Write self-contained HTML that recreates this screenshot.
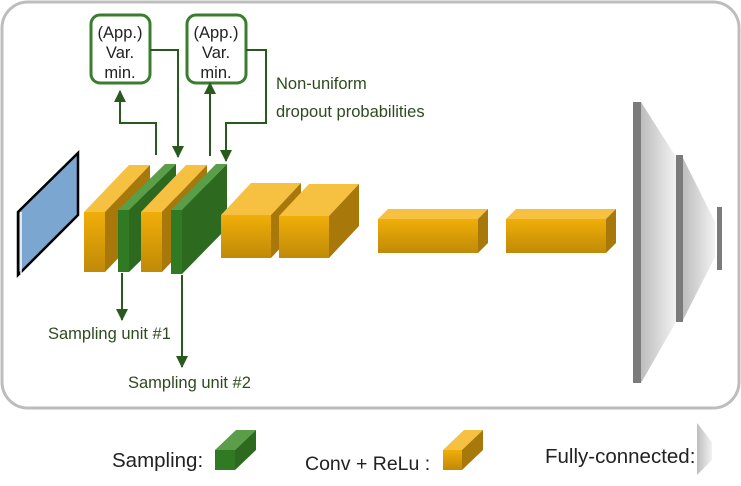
<!DOCTYPE html>
<html><head><style>body{margin:0;background:#fff}svg{display:block}text{font-family:"Liberation Sans",sans-serif}</style></head><body>
<svg width="741" height="486" viewBox="0 0 741 486" xmlns="http://www.w3.org/2000/svg">
<defs>
<linearGradient id="yf" x1="0" y1="0" x2="0" y2="1"><stop offset="0" stop-color="#f0ae08"/><stop offset="1" stop-color="#c08a08"/></linearGradient>
<linearGradient id="fc" x1="0" y1="0" x2="1" y2="0"><stop offset="0" stop-color="#bdbdbd"/><stop offset="1" stop-color="#f2f2f2"/></linearGradient>
<marker id="a" markerWidth="12" markerHeight="12" refX="11" refY="6" orient="auto" markerUnits="userSpaceOnUse"><path d="M0,0 L12,6 L0,12Z" fill="#285a1e"/></marker>
</defs>
<rect x="2" y="2" width="737" height="406" rx="26" fill="#fff" stroke="#bdbdbd" stroke-width="3"/>
<polygon points="18,212 78,153 78,215 18,275" fill="#7aa6cf" stroke="#000" stroke-width="2.5"/>
<line x1="21" y1="212" x2="21" y2="274" stroke="#fff" stroke-width="1.5"/>
<polygon points="84,212 105,212 150,165 129,165" fill="#f6c040"/>
<polygon points="105,212 150,165 150,225 105,272" fill="#a8780a"/>
<rect x="84" y="212" width="21" height="60" fill="url(#yf)"/>
<polygon points="118,210 129,210 176,164 165,164" fill="#5a9e4a"/>
<polygon points="129,210 176,164 176,226 129,272" fill="#2d6a1f"/>
<rect x="118" y="210" width="11" height="62" fill="#2f7a22"/>
<polygon points="141,212 162,212 207,165 186,165" fill="#f6c040"/>
<polygon points="162,212 207,165 207,225 162,272" fill="#a8780a"/>
<rect x="141" y="212" width="21" height="60" fill="url(#yf)"/>
<polygon points="171,210 182,210 227,164 216,164" fill="#5a9e4a"/>
<polygon points="182,210 227,164 227,228 182,274" fill="#2d6a1f"/>
<rect x="171" y="210" width="11" height="64" fill="#2f7a22"/>
<polygon points="221,215 271,215 301,183 251,183" fill="#f6c040"/>
<polygon points="271,215 301,183 301,226 271,258" fill="#a8780a"/>
<rect x="221" y="215" width="50" height="43" fill="url(#yf)"/>
<polygon points="279,216 329,216 359,184 309,184" fill="#f6c040"/>
<polygon points="329,216 359,184 359,226 329,258" fill="#a8780a"/>
<rect x="279" y="216" width="50" height="42" fill="url(#yf)"/>
<polygon points="378,219 478,219 488,209 388,209" fill="#f6c040"/>
<polygon points="478,219 488,209 488,243 478,253" fill="#a8780a"/>
<rect x="378" y="219" width="100" height="34" fill="url(#yf)"/>
<polygon points="506,219 606,219 616,209 516,209" fill="#f6c040"/>
<polygon points="606,219 616,209 616,243 606,253" fill="#a8780a"/>
<rect x="506" y="219" width="100" height="34" fill="url(#yf)"/>
<polygon points="641,102 676,157 676,322 641,383" fill="url(#fc)"/>
<polygon points="683,158 715,222 715,257 683,320" fill="url(#fc)"/>
<rect x="633" y="102" width="8" height="281" fill="#7b7b7b"/>
<rect x="676" y="155" width="7" height="167" fill="#7b7b7b"/>
<rect x="717" y="207" width="5" height="63" fill="#7b7b7b"/>
<rect x="91" y="15" width="59" height="68" rx="9" fill="#fff" stroke="#3b7d2f" stroke-width="3"/>
<rect x="187" y="15" width="59" height="68" rx="9" fill="#fff" stroke="#3b7d2f" stroke-width="3"/>
<g font-size="16.5" fill="#222" text-anchor="middle">
<text x="120" y="38">(App.)</text><text x="120" y="58">Var.</text><text x="120" y="78">min.</text>
<text x="216" y="38">(App.)</text><text x="216" y="58">Var.</text><text x="216" y="78">min.</text>
</g>
<g stroke="#285a1e" stroke-width="2" fill="none">
<polyline points="156,155 156,123 120,123 120,91" marker-end="url(#a)"/>
<polyline points="150,50 178,50 178,157" marker-end="url(#a)"/>
<polyline points="210,156 210,83" marker-end="url(#a)"/>
<polyline points="246,50 266,50 266,123 226,123 226,161" marker-end="url(#a)"/>
<polyline points="122,273 122,320" marker-end="url(#a)"/>
<polyline points="182,275 182,367" marker-end="url(#a)"/>
</g>
<g font-size="16.5" fill="#2e4a1f">
<text x="276" y="89">Non-uniform</text>
<text x="276" y="117">dropout probabilities</text>
<text x="48" y="339">Sampling unit #1</text>
<text x="128" y="388">Sampling unit #2</text>
</g>
<g font-size="20.5" fill="#222">
<text x="112" y="467">Sampling:</text>
<text x="305" y="470" font-size="19.5">Conv + ReLu :</text>
<text x="545" y="463">Fully-connected:</text>
</g>
<polygon points="215,450 235,450 256,430 236,430" fill="#5a9e4a"/>
<polygon points="235,450 256,430 256,450 235,470" fill="#2d6a1f"/>
<rect x="215" y="450" width="20" height="20" fill="#2f7a22"/>
<polygon points="443,450 462,450 483,430 464,430" fill="#f6c040"/>
<polygon points="462,450 483,430 483,450 462,470" fill="#a8780a"/>
<rect x="443" y="450" width="19" height="20" fill="url(#yf)"/>
<polygon points="697,423 712,442 712,460 697,475" fill="url(#fc)"/>
</svg>
</body></html>
